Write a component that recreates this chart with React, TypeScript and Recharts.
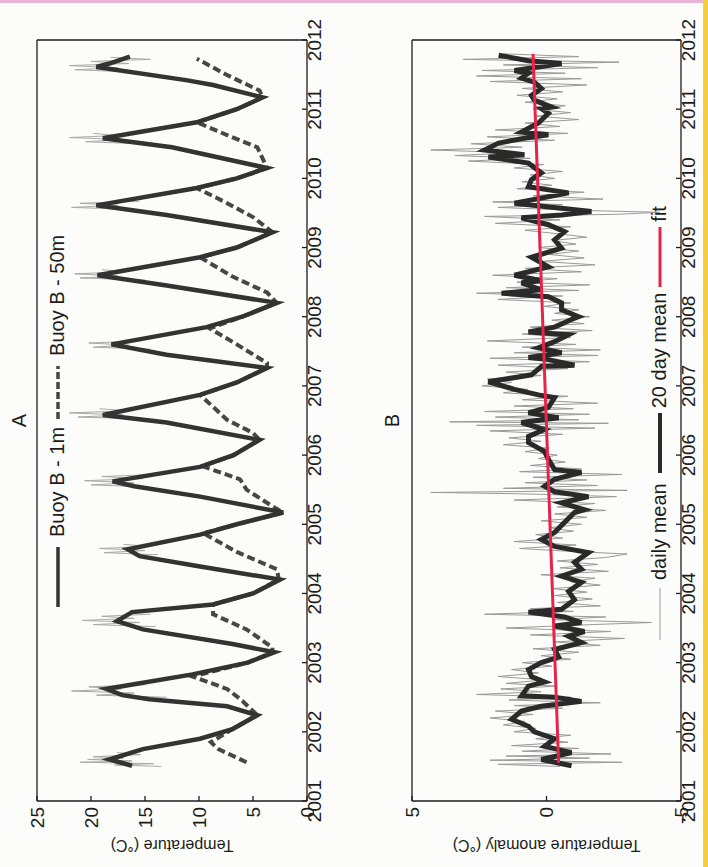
import React from 'react';
import {Legend, Line, LineChart, XAxis, YAxis} from 'recharts';

// years on the time axis
const years = [2001, 2002, 2003, 2004, 2005, 2006, 2007, 2008, 2009, 2010, 2011, 2012];
const tempTicks = [0, 5, 10, 15, 20, 25];
const anomTicks = [-5, 0, 5];

// panel A, Buoy B - 1m  [year, temp]
const buoy1m: [number, number][] = [
    [2001.51, 16.2], [2001.6, 18.3], [2001.75, 15.2], [2001.9, 9.9], [2002.04, 6.9], [2002.24, 4.6],
    [2002.37, 7.4], [2002.47, 14.6], [2002.53, 17.1], [2002.62, 18.6], [2002.83, 10.6], [2003.0, 5.5],
    [2003.15, 3.0], [2003.27, 6.9], [2003.48, 15.2], [2003.6, 17.6], [2003.73, 16.2], [2003.84, 8.7],
    [2004.0, 5.0], [2004.2, 2.5], [2004.39, 9.9], [2004.54, 15.5], [2004.64, 16.6], [2004.85, 9.9],
    [2005.0, 6.5], [2005.17, 2.2], [2005.4, 9.9], [2005.55, 16.0], [2005.62, 18.0], [2005.83, 9.9],
    [2006.0, 6.8], [2006.22, 4.4], [2006.47, 13.0], [2006.58, 18.9], [2006.87, 9.9], [2007.05, 6.5],
    [2007.26, 3.7], [2007.45, 13.0], [2007.6, 18.1], [2007.85, 9.3], [2008.0, 6.0], [2008.2, 2.8],
    [2008.45, 13.0], [2008.6, 19.4], [2008.86, 9.9], [2009.0, 6.5], [2009.22, 3.2], [2009.47, 13.0],
    [2009.61, 19.5], [2009.86, 10.2], [2010.0, 6.5], [2010.15, 3.7], [2010.45, 12.5], [2010.58, 18.9],
    [2010.81, 10.2], [2011.0, 6.5], [2011.17, 4.1], [2011.35, 8.7], [2011.42, 11.2], [2011.61, 19.5],
    [2011.66, 18.3], [2011.76, 16.4],
];

// panel A, Buoy B - 50m
const buoy50m: [number, number][] = [
    [2001.56, 5.6], [2001.75, 8.2], [2001.85, 8.9], [2002.04, 6.9], [2002.24, 4.6], [2002.45, 6.0],
    [2002.62, 7.4], [2002.8, 10.6], [2003.0, 5.5], [2003.15, 3.2], [2003.22, 3.2], [2003.48, 5.6],
    [2003.7, 8.7], [2003.84, 8.7], [2004.0, 5.0], [2004.2, 2.6], [2004.35, 2.8], [2004.6, 6.5],
    [2004.87, 9.6], [2005.0, 6.5], [2005.17, 2.2], [2005.26, 3.2], [2005.5, 5.6], [2005.65, 6.2],
    [2005.84, 9.7], [2006.0, 6.8], [2006.22, 4.4], [2006.32, 5.0], [2006.51, 7.4], [2006.87, 9.9],
    [2007.05, 6.5], [2007.26, 3.7], [2007.33, 3.7], [2007.6, 6.5], [2007.83, 9.0], [2008.0, 6.0],
    [2008.2, 2.8], [2008.35, 3.7], [2008.58, 6.9], [2008.86, 9.9], [2009.0, 6.5], [2009.22, 3.2],
    [2009.44, 5.0], [2009.65, 7.5], [2009.86, 10.2], [2010.0, 6.5], [2010.15, 3.7], [2010.45, 4.6],
    [2010.6, 7.0], [2010.81, 10.2], [2011.0, 6.5], [2011.17, 4.1], [2011.27, 4.4], [2011.5, 7.5],
    [2011.73, 10.2],
];

// panel A, daily scatter near the summer peaks (null = gap)
const daily1m: [number, number | null][] = [
    [2001.50, 13.5], [2001.52, 17.8], [2001.54, 14.2], [2001.56, 21.0], [2001.58, 16.2], [2001.60, 20.3],
    [2001.62, 17.0], [2001.64, 19.8], [2001.67, 15.4], [2001.70, 17.6], [2001.71, null],
    [2002.50, 13.0], [2002.53, 19.5], [2002.56, 16.0], [2002.59, 21.8], [2002.62, 17.2], [2002.65, 20.2],
    [2002.68, 15.0], [2002.69, null],
    [2003.52, 14.0], [2003.55, 19.8], [2003.58, 15.5], [2003.61, 20.8], [2003.64, 16.0], [2003.67, 19.0],
    [2003.70, 14.5], [2003.71, null],
    [2004.56, 13.8], [2004.59, 18.8], [2004.62, 15.0], [2004.65, 19.2], [2004.68, 14.6], [2004.71, 17.0],
    [2004.72, null],
    [2005.54, 15.0], [2005.57, 20.0], [2005.60, 16.0], [2005.63, 20.6], [2005.66, 15.2], [2005.69, 19.0],
    [2005.72, 14.0], [2005.73, null],
    [2006.52, 14.5], [2006.55, 21.2], [2006.58, 17.0], [2006.61, 22.0], [2006.64, 16.5], [2006.67, 19.2],
    [2006.68, null],
    [2007.53, 14.5], [2007.56, 19.8], [2007.59, 16.5], [2007.62, 20.2], [2007.65, 15.5], [2007.66, null],
    [2008.53, 15.0], [2008.56, 21.0], [2008.59, 17.5], [2008.62, 21.5], [2008.65, 16.8], [2008.68, 19.0],
    [2008.69, null],
    [2009.55, 16.0], [2009.58, 21.8], [2009.61, 17.5], [2009.64, 21.0], [2009.67, 15.5], [2009.68, null],
    [2010.50, 15.5], [2010.53, 20.5], [2010.56, 16.8], [2010.59, 22.0], [2010.62, 17.5], [2010.65, 19.8],
    [2010.66, null],
    [2011.54, 16.5], [2011.57, 21.5], [2011.60, 17.5], [2011.63, 22.0], [2011.66, 16.5], [2011.69, 20.0],
    [2011.72, 14.5], [2011.75, 18.2],
];

// panel B, 20 day mean anomaly
const mean20: [number, number][] = [
    [2001.51, -0.93], [2001.6, 0.19], [2001.7, -0.93], [2001.79, 0.07], [2001.9, -0.3], [2002.0, 0.45],
    [2002.08, 0.67], [2002.18, 1.3], [2002.3, 0.93], [2002.37, 0.19], [2002.44, -1.3], [2002.5, -0.3],
    [2002.52, 0.93], [2002.66, 0.67], [2002.72, 0.07], [2002.8, 0.56], [2002.9, 0.67], [2003.0, 0.19],
    [2003.08, -0.45], [2003.19, -0.3], [2003.29, -1.3], [2003.38, -0.82], [2003.45, -1.41], [2003.53, -0.3],
    [2003.58, -1.3], [2003.66, -0.67], [2003.73, 0.67], [2003.77, -0.56], [2003.91, -1.04], [2004.03, -0.82],
    [2004.16, -1.3], [2004.25, -0.56], [2004.35, -1.3], [2004.45, -1.04], [2004.59, -1.56], [2004.68, -0.3],
    [2004.78, 0.19], [2004.88, -0.3], [2005.0, -0.6], [2005.17, -1.04], [2005.21, -1.41], [2005.31, -0.56],
    [2005.4, -1.56], [2005.47, -0.3], [2005.55, 0.07], [2005.65, -0.3], [2005.75, -1.3], [2005.79, -0.3],
    [2005.94, -0.07], [2006.05, 0.07], [2006.18, 0.67], [2006.27, 0.67], [2006.37, 0.07], [2006.47, 0.93],
    [2006.54, -0.45], [2006.61, 0.67], [2006.69, -0.07], [2006.83, -0.3], [2006.87, 0.3], [2006.95, 1.19],
    [2007.06, 2.16], [2007.13, 1.04], [2007.16, 0.56], [2007.28, 0.19], [2007.3, -1.04], [2007.38, -0.07],
    [2007.41, 0.67], [2007.48, -0.56], [2007.55, 0.3], [2007.64, -0.3], [2007.74, -0.82], [2007.78, 0.67],
    [2007.85, -0.3], [2007.96, -0.93], [2008.0, -1.19], [2008.1, -0.56], [2008.2, -0.56], [2008.29, -0.07],
    [2008.34, 1.67], [2008.39, 0.19], [2008.49, 0.93], [2008.52, 0.19], [2008.6, 1.19], [2008.72, -0.07],
    [2008.86, 0.56], [2008.99, -0.56], [2009.11, -0.3], [2009.23, -0.67], [2009.33, -0.07], [2009.43, 0.93],
    [2009.47, -0.56], [2009.52, -1.67], [2009.64, 1.19], [2009.79, -0.82], [2009.88, 0.67], [2009.98, 0.56],
    [2010.08, 0.19], [2010.22, 0.67], [2010.31, 2.16], [2010.34, 0.82], [2010.41, 2.3], [2010.51, 1.78],
    [2010.58, 0.82], [2010.63, -0.07], [2010.67, 0.93], [2010.8, 0.3], [2010.94, -0.07], [2011.01, 0.19],
    [2011.03, -0.19], [2011.13, 0.45], [2011.2, 0.56], [2011.3, 0.19], [2011.39, 0.45], [2011.45, 0.93],
    [2011.52, 0.67], [2011.56, 1.19], [2011.63, -0.07], [2011.66, -0.56], [2011.7, 0.67], [2011.78, 1.78],
];

// panel B, daily mean anomaly
const dailyMean: [number, number][] = [
    [2001.50, -0.5], [2001.53, 1.8], [2001.56, -2.8], [2001.59, 2.1], [2001.62, -1.6], [2001.65, 1.5],
    [2001.68, -2.4], [2001.72, 0.9], [2001.76, -1.2], [2001.80, 1.3], [2001.85, -0.8], [2001.90, 0.4],
    [2001.95, -0.9], [2002.00, 1.2], [2002.05, 0.4], [2002.10, 1.6], [2002.15, 0.8], [2002.20, 2.1],
    [2002.25, 0.5], [2002.30, 1.9], [2002.34, -0.6], [2002.38, 1.2], [2002.42, -2.0], [2002.46, 1.4],
    [2002.50, -0.9], [2002.54, 2.6], [2002.58, 0.2], [2002.62, 1.7], [2002.66, -0.4], [2002.70, 1.5],
    [2002.75, 0.1], [2002.80, 1.8], [2002.85, 0.3], [2002.90, 1.3], [2002.95, -0.2], [2003.00, 0.9],
    [2003.05, -0.9], [2003.10, 0.2], [2003.15, -1.2], [2003.20, 0.5], [2003.25, -2.0], [2003.30, -0.3],
    [2003.35, -2.9], [2003.40, 0.6], [2003.45, -2.4], [2003.50, 1.5], [2003.55, -1.7], [2003.58, -3.9],
    [2003.62, -0.2], [2003.66, -2.2], [2003.70, 2.3], [2003.74, -1.0], [2003.78, 0.6], [2003.82, -2.0],
    [2003.87, -0.4], [2003.92, -1.7], [2003.97, -0.3], [2004.02, -1.5], [2004.07, -0.2], [2004.12, -2.0],
    [2004.17, -0.9], [2004.22, -1.8], [2004.27, 0.2], [2004.32, -2.3], [2004.37, -0.5], [2004.42, -1.9],
    [2004.47, -0.4], [2004.52, -2.2], [2004.57, -3.0], [2004.61, -0.8], [2004.65, 1.0], [2004.70, -1.1],
    [2004.75, 1.2], [2004.80, -0.6], [2004.85, 0.4], [2004.90, -1.0], [2004.95, -0.1], [2005.00, -1.3],
    [2005.05, 0.2], [2005.10, -1.5], [2005.15, -0.3], [2005.20, -2.2], [2005.25, -0.4], [2005.30, -1.8],
    [2005.35, 1.2], [2005.40, -2.6], [2005.44, 0.9], [2005.46, 4.3], [2005.49, -3.0], [2005.52, 1.6],
    [2005.56, -1.9], [2005.60, 0.8], [2005.64, -1.5], [2005.68, 0.5], [2005.72, -2.8], [2005.76, 1.0],
    [2005.80, -1.3], [2005.85, 0.6], [2005.90, -0.7], [2005.95, 0.3], [2006.00, -0.4], [2006.05, 0.8],
    [2006.10, -0.1], [2006.15, 1.6], [2006.20, 0.2], [2006.25, 1.4], [2006.30, -0.6], [2006.35, 2.1],
    [2006.39, -1.8], [2006.43, 2.6], [2006.46, -2.3], [2006.48, 3.6], [2006.51, -1.2], [2006.55, 1.9],
    [2006.59, -1.6], [2006.63, 2.3], [2006.67, -1.0], [2006.71, 1.2], [2006.75, -1.9], [2006.80, 0.9],
    [2006.85, -0.8], [2006.90, 1.6], [2006.95, 0.7], [2007.00, 2.4], [2007.05, 1.3], [2007.10, 2.2],
    [2007.15, 0.2], [2007.20, 1.5], [2007.25, -0.8], [2007.30, 1.8], [2007.35, -1.6], [2007.40, 2.1],
    [2007.44, -1.9], [2007.48, 1.2], [2007.52, -2.0], [2007.56, 0.9], [2007.60, -1.1], [2007.65, 2.2],
    [2007.70, -0.9], [2007.75, 0.9], [2007.80, -1.7], [2007.85, 0.6], [2007.90, -1.4], [2007.95, -0.2],
    [2008.00, -1.6], [2008.05, -0.3], [2008.10, -1.2], [2008.15, 0.1], [2008.20, -0.9], [2008.25, 1.8],
    [2008.30, -0.6], [2008.34, 2.6], [2008.38, -1.2], [2008.42, 1.5], [2008.46, -1.6], [2008.50, 1.1],
    [2008.55, -0.4], [2008.60, 2.0], [2008.65, -1.3], [2008.70, 0.8], [2008.75, -1.8], [2008.80, 0.2],
    [2008.85, -1.4], [2008.90, -0.1], [2008.95, -1.2], [2009.00, 0.3], [2009.05, -1.1], [2009.10, -0.2],
    [2009.15, -1.5], [2009.20, -0.4], [2009.25, 0.8], [2009.30, -0.9], [2009.35, 1.9], [2009.40, -0.5],
    [2009.45, 2.3], [2009.48, -2.6], [2009.51, -4.2], [2009.54, -0.9], [2009.58, 1.8], [2009.62, -0.6],
    [2009.66, 2.0], [2009.70, -2.1], [2009.75, 0.5], [2009.80, -1.4], [2009.85, 1.1], [2009.90, -0.2],
    [2009.95, 0.9], [2010.00, -0.3], [2010.05, 0.6], [2010.10, -0.6], [2010.15, 1.2], [2010.20, 0.1],
    [2010.25, 2.9], [2010.29, 0.6], [2010.33, 3.4], [2010.37, 1.1], [2010.41, 4.3], [2010.45, 0.9],
    [2010.50, 2.8], [2010.55, -0.3], [2010.60, 2.2], [2010.65, -0.8], [2010.70, 1.9], [2010.75, -0.5],
    [2010.80, 0.8], [2010.85, -1.2], [2010.90, 0.4], [2010.95, -0.9], [2011.00, 0.5], [2011.05, -0.7],
    [2011.10, 0.8], [2011.15, -0.4], [2011.20, 1.1], [2011.25, -0.6], [2011.30, 0.9], [2011.35, -1.5],
    [2011.40, 2.1], [2011.44, -1.3], [2011.48, 2.6], [2011.52, -0.7], [2011.56, 2.4], [2011.60, -1.9],
    [2011.64, 1.6], [2011.68, -2.7], [2011.72, 3.1], [2011.76, -1.2], [2011.80, 1.6],
];

// panel B, linear fit end points
const fitLine: [number, number][] = [[2001.55, -0.45], [2011.8, 0.5]];

const rows = (pairs: [number, number | null][]) => pairs.map(([t, v]) => ({t, v}));

const font = '"Liberation Sans", Arial, Helvetica, sans-serif';
const ink = '#1c1c1c';
const tickStyle = {fill: ink, fontSize: 19, fontFamily: font};

const yTitle = (text: string) => (props: any) => {
    const vb = props.viewBox || {};
    const cy = vb.y + vb.height / 2;
    return (
        <text x={22} y={cy} transform={`rotate(-90 22 ${cy})`} textAnchor="middle" dominantBaseline="central"
              fill={ink} fontSize={16} fontFamily={font}>{text}</text>
    );
};

const LegendA = () => (
    <div style={{display: 'flex', alignItems: 'center', fontFamily: font, fontSize: 20, color: ink, whiteSpace: 'nowrap'}}>
        <svg width={60} height={6}><line x1={0} y1={3} x2={60} y2={3} stroke="#333" strokeWidth={3.5}/></svg>
        <span style={{marginLeft: 10}}>Buoy B - 1m</span>
        <svg width={53} height={6} style={{marginLeft: 8}}><line x1={0} y1={3} x2={53} y2={3} stroke="#444" strokeWidth={3.5} strokeDasharray="7 3"/></svg>
        <span style={{marginLeft: 10}}>Buoy B - 50m</span>
    </div>
);

const LegendB = () => (
    <div style={{display: 'flex', alignItems: 'center', fontFamily: font, fontSize: 20, color: ink, whiteSpace: 'nowrap'}}>
        <svg width={52} height={6}><line x1={0} y1={3} x2={52} y2={3} stroke="#9a9a9a" strokeWidth={1}/></svg>
        <span style={{marginLeft: 8}}>daily mean</span>
        <svg width={60} height={6} style={{marginLeft: 10}}><line x1={0} y1={3} x2={60} y2={3} stroke="#2a2a2a" strokeWidth={4}/></svg>
        <span style={{marginLeft: 5}}>20 day mean</span>
        <svg width={60} height={6} style={{marginLeft: 6}}><line x1={0} y1={3} x2={60} y2={3} stroke="#e8234a" strokeWidth={3}/></svg>
        <span style={{marginLeft: 5}}>fit</span>
    </div>
);

const axisLine = {stroke: ink, strokeWidth: 1.3};

// the figure is drawn upright and then turned a quarter turn anticlockwise, like the scan
const App = () => {
    return (
        <div style={{position: 'absolute', left: 0, top: 0, width: 708, height: 867, overflow: 'hidden', background: '#fcfcfa'}}>
            <div style={{position: 'absolute', left: 0, top: 0, width: 867, height: 708, transformOrigin: '0 0',
                transform: 'translate(0px, 867px) rotate(-90deg)'}}>
                <div style={{position: 'absolute', left: 66, width: 761, top: 8, textAlign: 'center', fontFamily: font, fontSize: 20, color: ink}}>A</div>
                <div style={{position: 'absolute', left: 0, top: 0}}>
                    <LineChart width={867} height={345} margin={{top: 36, right: 39, bottom: 0, left: 0}}>
                        <XAxis xAxisId={0} dataKey="t" type="number" domain={[2001, 2012]} ticks={years} interval={0}
                               allowDataOverflow height={38} tick={tickStyle} tickSize={-5} tickMargin={6}
                               axisLine={axisLine} tickLine={axisLine}/>
                        <XAxis xAxisId="top" orientation="top" dataKey="t" type="number" domain={[2001, 2012]} ticks={years}
                               height={1} tick={false} tickSize={-5} axisLine={axisLine} tickLine={axisLine}/>
                        <YAxis yAxisId={0} type="number" domain={[0, 25]} ticks={tempTicks} interval={0} width={66}
                               tick={tickStyle} tickSize={-5} tickMargin={11} axisLine={axisLine} tickLine={axisLine}
                               label={{value: 'Temperature (°C)', content: yTitle('Temperature (°C)')}}/>
                        <YAxis yAxisId="right" orientation="right" type="number" domain={[0, 25]} ticks={tempTicks}
                               width={1} tick={false} tickSize={-5} axisLine={axisLine} tickLine={axisLine}/>
                        <Legend layout="horizontal" verticalAlign="middle" align="center" content={LegendA}
                                wrapperStyle={{left: 260, top: 46, width: 'auto', height: 24}}/>
                        <Line data={rows(daily1m)} dataKey="v" type="linear" stroke="#a9a9a9" strokeWidth={1}
                              dot={false} isAnimationActive={false} connectNulls={false} legendType="none"/>
                        <Line data={rows(buoy50m)} dataKey="v" type="linear" stroke="#474747" strokeWidth={4}
                              strokeDasharray="8 4" dot={false} isAnimationActive={false}/>
                        <Line data={rows(buoy1m)} dataKey="v" type="linear" stroke="#333" strokeWidth={4.5}
                              dot={false} isAnimationActive={false}/>
                    </LineChart>
                </div>
                <div style={{position: 'absolute', left: 66, width: 761, top: 381, textAlign: 'center', fontFamily: font, fontSize: 20, color: ink}}>B</div>
                <div style={{position: 'absolute', left: 0, top: 345}}>
                    <LineChart width={867} height={363} margin={{top: 66, right: 39, bottom: 0, left: 0}}>
                        <XAxis xAxisId={0} dataKey="t" type="number" domain={[2001, 2012]} ticks={years} interval={0}
                               allowDataOverflow height={27} tick={tickStyle} tickSize={-5} tickMargin={6}
                               axisLine={axisLine} tickLine={axisLine}/>
                        <XAxis xAxisId="top" orientation="top" dataKey="t" type="number" domain={[2001, 2012]} ticks={years}
                               height={1} tick={false} tickSize={-5} axisLine={axisLine} tickLine={axisLine}/>
                        <YAxis yAxisId={0} type="number" domain={[-5, 5]} ticks={anomTicks} interval={0} width={66}
                               allowDataOverflow tick={tickStyle} tickSize={-5} tickMargin={11} axisLine={axisLine}
                               tickLine={axisLine}
                               label={{value: 'Temperature anomaly (°C)', content: yTitle('Temperature anomaly (°C)')}}/>
                        <YAxis yAxisId="right" orientation="right" type="number" domain={[-5, 5]} ticks={anomTicks}
                               width={1} tick={false} tickSize={-5} axisLine={axisLine} tickLine={axisLine}/>
                        <Legend layout="horizontal" verticalAlign="middle" align="center" content={LegendB}
                                wrapperStyle={{left: 227, top: 303, width: 'auto', height: 24}}/>
                        <Line data={rows(dailyMean)} dataKey="v" type="linear" stroke="#9a9a9a" strokeWidth={1}
                              dot={false} isAnimationActive={false}/>
                        <Line data={rows(mean20)} dataKey="v" type="linear" stroke="#2a2a2a" strokeWidth={5}
                              dot={false} isAnimationActive={false}/>
                        <Line data={rows(fitLine)} dataKey="v" type="linear" stroke="#e8234a" strokeWidth={3}
                              dot={false} isAnimationActive={false}/>
                    </LineChart>
                </div>
            </div>
            <div style={{position: 'absolute', left: 0, top: 0, width: 708, height: 3, background: '#e9b3d6'}}/>
            <div style={{position: 'absolute', left: 703, top: 0, width: 5, height: 867, background: '#f3cf3a'}}/>
        </div>
    );
};

export default App;
